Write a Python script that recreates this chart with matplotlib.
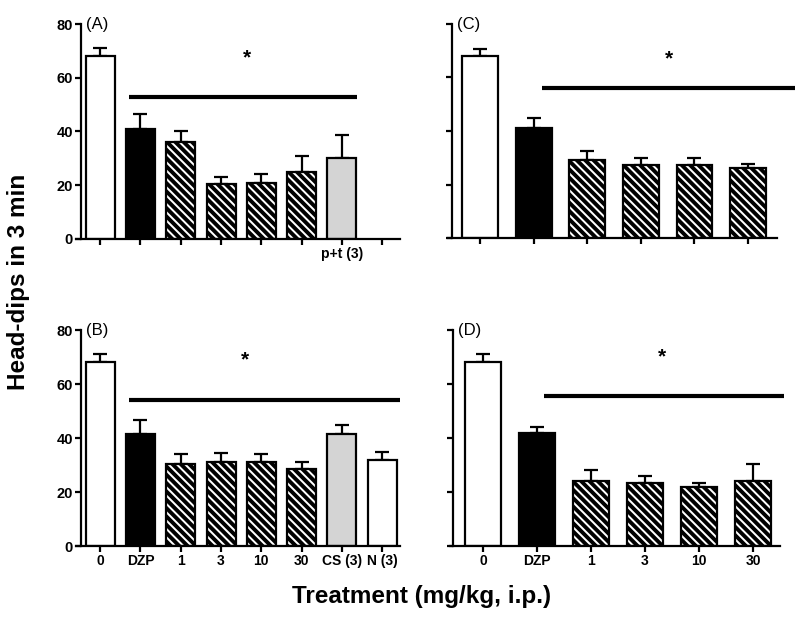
import numpy as np
import matplotlib.pyplot as plt

plt.rcParams['font.family'] = ['Liberation Sans', 'DejaVu Sans']
plt.rcParams['hatch.linewidth'] = 2.8

# group labels
labels_ab = ["0", "DZP", "1", "3", "10", "30", "CS (3)", "N (3)"]
labels_cd = ["0", "DZP", "1", "3", "10", "30"]

# panel A (p+t (3) in place of CS)
mean_a = [68, 41, 36, 20.5, 21, 25, 30]
sem_a = [3, 5.5, 4, 2.5, 3, 6, 8.7]
# panel B
mean_b = [68, 41.5, 30.5, 31, 31, 28.4, 41.4, 32]
sem_b = [3, 5, 3.5, 3.5, 3, 2.8, 3.6, 3]
# panel C
mean_c = [68, 41, 29, 27.2, 27.2, 26.2]
sem_c = [2.8, 3.8, 3.5, 2.7, 2.7, 1.6]
# panel D
mean_d = [68, 42, 24, 23.2, 22, 24]
sem_d = [3, 2.2, 4.2, 2.6, 1.2, 6.3]

W, H = 800, 623
fig = plt.figure(figsize=(W / 100, H / 100), dpi=100)


def px_axes(x0, x1, ytop, ybot):
    return fig.add_axes([x0 / W, 1 - ybot / H, (x1 - x0) / W, (ybot - ytop) / H])


def style_for(n, kind):
    fills, hatches = ["white", "black"], ["", ""]
    fills += ["white"] * 4
    hatches += ["\\\\\\\\"] * 4
    if kind == "A":
        fills += ["#d4d4d4"]; hatches += [""]
    elif kind == "B":
        fills += ["#d4d4d4", "white"]; hatches += ["", ""]
    return fills[:n], hatches[:n]


def panel(ax, means, sems, kind, xlim, yspine, width, ncat, tag, line, star):
    x = np.arange(len(means))
    fills, hatches = style_for(len(means), kind)
    ax.errorbar(x, means, yerr=[np.zeros(len(means)), sems], fmt="none",
                ecolor="black", elinewidth=1.6, capsize=5, capthick=1.6, zorder=1)
    for xi, m, f, h in zip(x, means, fills, hatches):
        ax.bar(xi, m, width=width, color=f, edgecolor="black", linewidth=1.6,
               hatch=h, zorder=2)
    ax.set_xlim(*xlim)
    ax.set_ylim(0, 80)
    ax.spines[["top", "right"]].set_visible(False)
    ax.spines["left"].set_position(("data", yspine))
    ax.spines["left"].set_linewidth(1.6)
    ax.spines["bottom"].set_linewidth(1.6)
    ax.set_xticks(np.arange(ncat))
    ax.set_yticks([0, 20, 40, 60, 80])
    ax.tick_params(direction="out", length=4, width=1.6, pad=2)
    ax.plot(line[0], [line[1], line[1]], color="black", lw=3, clip_on=False,
            solid_capstyle="butt")
    ax.text(star[0], star[1], "*", fontsize=15, fontweight="bold",
            ha="center", va="center")
    ax.text(0.015 + (yspine - xlim[0]) / (xlim[1] - xlim[0]), 1.0, tag,
            transform=ax.transAxes, fontsize=12, ha="left", va="center")
    return ax


xtick_font = dict(fontsize=10, fontweight="bold")
ytick_font = dict(fontsize=10.5, fontweight="bold")

# (A)
ax = px_axes(76, 400, 24, 239)
panel(ax, mean_a, sem_a, "A", (-0.6, 7.44), -0.47, 0.72, 8, "(A)",
      ((0.72, 6.38), 52.7), (3.65, 67.5))
ax.set_xticklabels(["", "", "", "", "", "", "p+t (3)", ""], **xtick_font)
ax.set_yticklabels(["0", "20", "40", "60", "80"], **ytick_font)

# (B)
ax = px_axes(76, 400, 330, 546)
panel(ax, mean_b, sem_b, "B", (-0.6, 7.44), -0.47, 0.72, 8, "(B)",
      ((0.72, 7.44), 54), (3.6, 69))
ax.set_xticklabels(labels_ab, **xtick_font)
ax.set_yticklabels(["0", "20", "40", "60", "80"], **ytick_font)

# (C)
ax = px_axes(448, 777, 24, 238)
panel(ax, mean_c, sem_c, "C", (-0.6, 5.54), -0.52, 0.67, 6, "(C)",
      ((1.16, 5.88), 56), (3.53, 67))
ax.set_xticklabels([""] * 6)
ax.set_yticklabels([""] * 5)

# (D)
ax = px_axes(450, 780, 330, 546)
panel(ax, mean_d, sem_d, "D", (-0.61, 5.5), -0.556, 0.68, 6, "(D)",
      ((1.13, 5.57), 55.5), (3.31, 70))
ax.set_xticklabels(labels_cd, **xtick_font)
ax.set_yticklabels([""] * 5)

fig.text(19 / W, 1 - 282 / H, "Head-dips in 3 min", rotation=90, fontsize=17.5,
         fontweight="bold", ha="center", va="center")
fig.text(422 / W, 1 - 597 / H, "Treatment (mg/kg, i.p.)", fontsize=17.5,
         fontweight="bold", ha="center", va="center")

fig.savefig("out.png", dpi=100)
